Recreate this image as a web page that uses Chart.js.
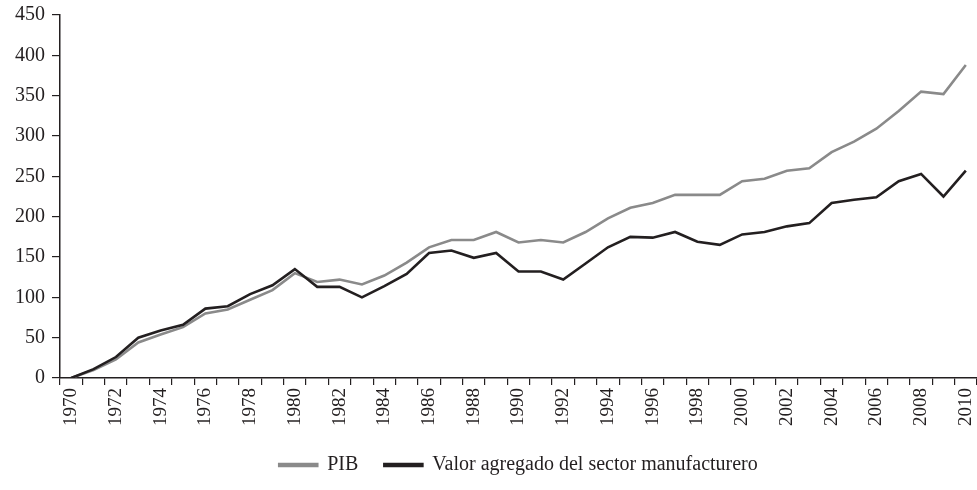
<!DOCTYPE html>
<html>
<head>
<meta charset="utf-8">
<script src="https://cdn.jsdelivr.net/npm/chart.js@4.4.1/dist/chart.umd.min.js"></script>
<style>
  html, body { margin: 0; padding: 0; background: #ffffff; }
  #wrap { width: 977px; height: 490px; }
</style>
</head>
<body>
<div id="wrap"><canvas id="c" width="977" height="490"></canvas></div>
<script>
const years = ["1970","1971","1972","1973","1974","1975","1976","1977","1978","1979",
  "1980","1981","1982","1983","1984","1985","1986","1987","1988","1989",
  "1990","1991","1992","1993","1994","1995","1996","1997","1998","1999",
  "2000","2001","2002","2003","2004","2005","2006","2007","2008","2009","2010"];

const pib = [0, 10, 23, 44, 54, 63, 80, 85, 97, 109,
  130, 119, 122, 116, 127, 143, 162, 171, 171, 181,
  168, 171, 168, 181, 198, 211, 217, 227, 227, 227,
  244, 247, 257, 260, 280, 293, 309, 331, 355, 352, 388];

const manufactura = [0, 11, 26, 50, 59, 66, 86, 89, 104, 115,
  135, 113, 113, 100, 114, 129, 155, 158, 149, 155,
  132, 132, 122, 142, 162, 175, 174, 181, 169, 165,
  178, 181, 188, 192, 217, 221, 224, 244, 253, 225, 257];

const yTicks = [0, 50, 100, 150, 200, 250, 300, 350, 400, 450];

const seriesNames = ["PIB", "Valor agregado del sector manufacturero"];

const ink = "#231f20";
const FONT = "'Liberation Serif', 'DejaVu Serif', serif";

new Chart(document.getElementById("c"), {
  type: "line",
  data: {
    labels: years,
    datasets: [
      {
        label: seriesNames[0],
        data: pib,
        borderColor: "#8a8a8a",
        backgroundColor: "#8a8a8a",
        borderWidth: 2.6,
        pointRadius: 0,
        tension: 0,
        order: 1
      },
      {
        label: seriesNames[1],
        data: manufactura,
        borderColor: ink,
        backgroundColor: ink,
        borderWidth: 2.6,
        pointRadius: 0,
        tension: 0,
        order: 0
      }
    ]
  },
  options: {
    responsive: false,
    animation: false,
    devicePixelRatio: 1,
    layout: { padding: { top: 15, right: 0, left: 8, bottom: 5 } },
    plugins: {
      tooltip: { enabled: false },
      legend: {
        position: "bottom",
        fullSize: false,
        labels: {
          boxWidth: 38,
          boxHeight: 2,
          padding: 26,
          color: ink,
          font: { family: FONT, size: 20 },
          sort: function (a, b) { return a.datasetIndex - b.datasetIndex; }
        }
      }
    },
    scales: {
      x: {
        type: "category",
        offset: true,
        afterFit: function (s) { s.paddingRight = 0; s.paddingLeft = 0; },
        grid: {
          offset: true,
          drawOnChartArea: false,
          drawTicks: true,
          tickLength: 7,
          color: ink,
          lineWidth: 1.2
        },
        border: { color: ink, width: 1.5 },
        ticks: {
          autoSkip: false,
          maxRotation: 90,
          minRotation: 90,
          padding: 3,
          color: ink,
          font: { family: FONT, size: 19 },
          callback: function (v, i) { return i % 2 === 0 ? years[i] : ""; }
        }
      },
      y: {
        min: yTicks[0],
        max: yTicks[yTicks.length - 1],
        afterBuildTicks: function (axis) { axis.ticks = yTicks.map(v => ({ value: v })); },
        afterFit: function (s) { s.paddingTop = 0; s.paddingBottom = 0; },
        grid: {
          drawOnChartArea: false,
          drawTicks: true,
          tickLength: 8,
          color: ink,
          lineWidth: 1.2
        },
        border: { color: ink, width: 1.5 },
        ticks: {
          padding: 7,
          color: ink,
          font: { family: FONT, size: 20 }
        }
      }
    }
  }
});
</script>
</body>
</html>
